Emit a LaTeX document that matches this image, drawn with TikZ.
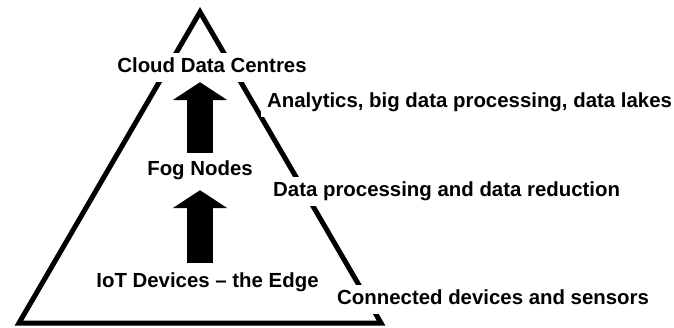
\documentclass[tikz,border=0pt]{standalone}
\usepackage{fontspec}
\setmainfont{Liberation Sans}
\usepackage{tikz}
\usetikzlibrary{arrows.meta}

\tikzset{
    lbl/.style={fill=white, inner xsep=6pt, inner ysep=5pt, text height=15pt, text depth=4pt,
        font=\bfseries\fontsize{20.4}{24}\selectfont},
    upflow/.style={-{Triangle[width=54pt,length=18pt]}, line width=26pt}
}

\begin{document}
\begin{tikzpicture}[x=1pt,y=-1pt]
        \useasboundingbox (0,0) rectangle (674,328);
        % Pyramid
        \draw[line width=5pt, line join=miter] (200,12) -- (381,323) -- (19,323) -- cycle;

        % Layers
        \node[lbl, anchor=base] (cloud) at (212,73) {Cloud Data Centres};
        \node[lbl, anchor=base] (fog) at (200,176) {Fog Nodes};
        \node[lbl, anchor=base] (iot) at (207.5,288) {IoT Devices -- the Edge};

        % What each layer does
        \node[lbl, anchor=base west] (analytics) at (261,108) {Analytics, big data processing, data lakes};
        \node[lbl, anchor=base west] (reduction) at (267,197) {Data processing and data reduction};
        \node[lbl, anchor=base west] (sensors) at (331,305) {Connected devices and sensors};

        % Data going up
        \draw[upflow, shorten <=3pt] (fog.north) -- (fog.north |- cloud.south);
        \draw[upflow, shorten <=5pt, shorten >=5pt] (iot.north -| fog.south) -- (fog.south);
\end{tikzpicture}
\end{document}
